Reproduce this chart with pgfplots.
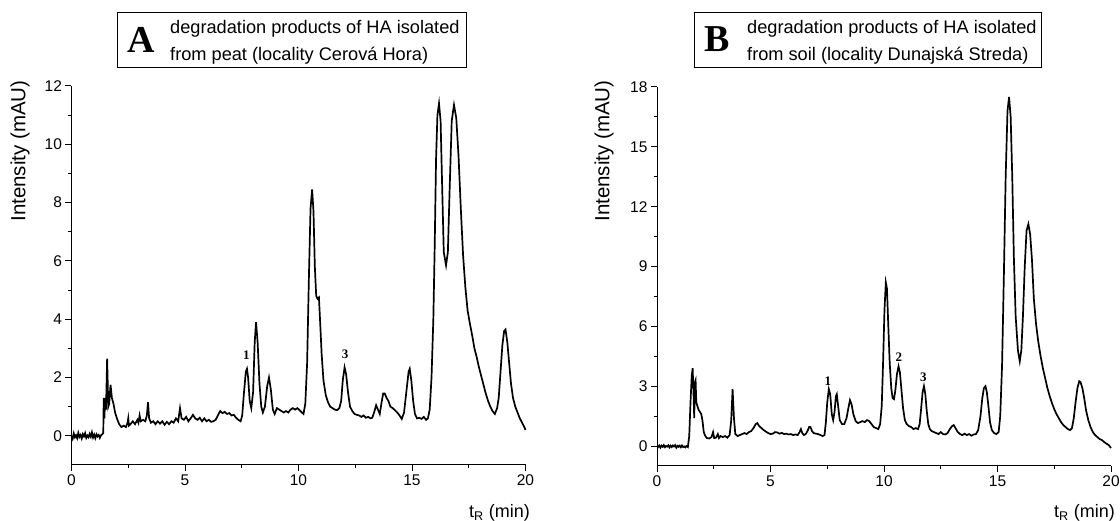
\documentclass[border=0pt]{standalone}
\usepackage{fontspec}
\setmainfont{Liberation Sans}
\newfontfamily\serifb{Liberation Serif}
\usepackage{pgfplots}
\pgfplotsset{compat=1.18}
\pgfplotstableread{
x y
0 0.0
0.05 -0.1
0.1 0.08
0.15 -0.05
0.2 0.02
0.25 -0.08
0.3 0.1
0.35 -0.04
0.4 0.03
0.45 -0.09
0.5 0.06
0.55 -0.02
0.6 0.09
0.65 -0.07
0.7 0.01
0.75 -0.05
0.8 0.07
0.85 -0.03
0.9 0.12
0.95 -0.06
1.0 0.04
1.05 -0.08
1.1 0.05
1.15 -0.02
1.2 0.03
1.25 -0.07
1.3 0.02
1.35 0.05
1.4 0.1
1.42 1.3
1.45 0.6
1.48 1.3
1.52 0.9
1.57 2.65
1.62 1.0
1.66 1.1
1.72 1.75
1.78 1.3
1.85 1.1
1.92 0.8
2.0 0.6
2.1 0.4
2.2 0.3
2.3 0.35
2.4 0.3
2.47 0.45
2.5 0.6
2.53 0.35
2.6 0.4
2.7 0.5
2.8 0.4
2.9 0.55
2.95 0.45
3.0 0.7
3.05 0.5
3.15 0.55
3.25 0.5
3.32 0.7
3.37 1.15
3.42 0.6
3.5 0.45
3.6 0.5
3.7 0.4
3.8 0.5
3.9 0.42
4.0 0.5
4.1 0.38
4.2 0.48
4.3 0.4
4.4 0.5
4.5 0.45
4.6 0.6
4.7 0.5
4.78 0.95
4.85 0.6
4.95 0.55
5.05 0.65
5.15 0.5
5.25 0.6
5.35 0.72
5.45 0.6
5.55 0.55
5.65 0.62
5.75 0.5
5.85 0.6
5.95 0.5
6.05 0.55
6.15 0.48
6.25 0.5
6.35 0.55
6.45 0.7
6.55 0.85
6.65 0.78
6.75 0.82
6.85 0.75
6.95 0.78
7.05 0.7
7.15 0.72
7.25 0.62
7.35 0.55
7.45 0.5
7.52 0.7
7.6 1.5
7.68 2.2
7.73 2.3
7.78 2.0
7.85 1.2
7.92 0.95
8.0 1.5
8.07 3.2
8.13 3.9
8.2 3.2
8.28 1.8
8.36 1.0
8.43 0.8
8.52 1.0
8.62 1.7
8.7 2.0
8.78 1.6
8.87 0.9
8.95 0.75
9.05 0.95
9.15 0.9
9.25 0.85
9.35 0.8
9.45 0.85
9.55 0.8
9.65 0.9
9.75 0.95
9.85 0.9
9.95 0.95
10.05 0.88
10.15 0.8
10.22 0.75
10.3 1.1
10.38 2.5
10.46 5.5
10.53 7.8
10.6 8.45
10.66 7.7
10.72 5.8
10.78 4.8
10.84 4.7
10.9 4.75
10.96 3.8
11.02 2.8
11.1 1.9
11.2 1.4
11.3 1.15
11.4 1.0
11.5 0.95
11.6 0.9
11.7 0.88
11.8 0.95
11.88 1.2
11.95 1.9
12.03 2.35
12.1 2.1
12.18 1.5
12.27 1.0
12.37 0.85
12.47 0.75
12.57 0.72
12.67 0.7
12.77 0.65
12.87 0.7
12.97 0.62
13.07 0.65
13.17 0.6
13.25 0.62
13.33 0.8
13.42 1.05
13.5 0.9
13.58 0.75
13.65 1.1
13.73 1.45
13.8 1.45
13.88 1.3
13.96 1.2
14.05 1.0
14.15 0.95
14.25 0.88
14.35 0.8
14.45 0.7
14.55 0.58
14.65 0.8
14.75 1.5
14.85 2.2
14.9 2.3
14.97 1.9
15.05 1.2
15.13 0.75
15.22 0.6
15.32 0.62
15.42 0.58
15.52 0.65
15.62 0.55
15.7 0.6
15.78 0.9
15.86 2.0
15.94 4.0
16.0 6.5
16.06 9.5
16.12 11.0
16.19 11.4
16.26 10.8
16.33 8.5
16.4 6.3
16.5 5.85
16.58 6.3
16.66 8.5
16.75 10.8
16.85 11.35
16.95 10.9
17.05 9.6
17.15 7.8
17.25 6.2
17.35 5.1
17.45 4.3
17.55 3.85
17.65 3.45
17.75 3.0
17.85 2.7
17.95 2.35
18.05 2.05
18.15 1.75
18.25 1.45
18.35 1.2
18.45 1.0
18.55 0.85
18.65 0.75
18.75 0.95
18.82 1.3
18.9 2.2
18.98 3.1
19.06 3.6
19.12 3.65
19.2 3.2
19.28 2.5
19.36 1.8
19.45 1.3
19.55 1.0
19.65 0.8
19.75 0.6
19.85 0.45
19.95 0.3
20 0.2
}\dataA
\pgfplotstableread{
x y
0 0.0
0.05 -0.05
0.1 0.03
0.15 -0.08
0.2 0.02
0.25 -0.04
0.3 0.05
0.35 -0.06
0.4 0.0
0.45 -0.03
0.5 0.04
0.55 -0.07
0.6 0.02
0.65 -0.05
0.7 0.03
0.75 -0.02
0.8 0.05
0.85 -0.08
0.9 0.01
0.95 -0.04
1.0 0.02
1.05 -0.06
1.1 0.03
1.15 -0.05
1.2 -0.02
1.25 -0.07
1.3 0.0
1.36 -0.05
1.42 0.5
1.48 2.3
1.53 3.5
1.57 3.9
1.61 2.6
1.64 1.4
1.67 3.2
1.7 3.3
1.73 2.2
1.78 2.0
1.84 1.8
1.9 1.7
1.95 1.6
2.0 1.3
2.06 0.7
2.13 0.5
2.2 0.4
2.3 0.38
2.4 0.45
2.47 0.7
2.52 0.4
2.6 0.42
2.68 0.6
2.73 0.4
2.8 0.5
2.9 0.45
3.0 0.5
3.1 0.42
3.2 0.55
3.27 1.3
3.33 2.85
3.39 1.4
3.45 0.6
3.55 0.5
3.65 0.55
3.75 0.6
3.85 0.65
3.95 0.6
4.05 0.7
4.15 0.75
4.25 0.9
4.35 1.1
4.42 1.15
4.5 1.0
4.6 0.9
4.7 0.8
4.8 0.72
4.9 0.65
5.0 0.6
5.1 0.62
5.2 0.7
5.3 0.68
5.4 0.62
5.5 0.66
5.6 0.6
5.7 0.62
5.8 0.58
5.9 0.6
6.0 0.55
6.1 0.58
6.2 0.55
6.28 0.7
6.34 0.85
6.4 0.65
6.47 0.55
6.55 0.6
6.63 0.75
6.7 0.95
6.76 0.95
6.83 0.75
6.9 0.65
7.0 0.62
7.1 0.6
7.2 0.55
7.3 0.5
7.38 0.55
7.44 1.2
7.5 2.2
7.57 2.85
7.63 2.6
7.7 1.6
7.76 1.3
7.82 1.7
7.88 2.5
7.92 2.6
7.98 2.0
8.05 1.3
8.15 1.1
8.25 1.1
8.35 1.4
8.43 1.9
8.5 2.3
8.57 2.1
8.65 1.6
8.75 1.25
8.85 1.15
8.95 1.2
9.05 1.25
9.15 1.2
9.25 1.3
9.35 1.25
9.45 1.1
9.55 0.95
9.65 0.9
9.75 0.85
9.83 1.1
9.9 2.0
9.96 4.2
10.02 6.8
10.08 8.2
10.13 7.9
10.19 6.0
10.25 4.2
10.32 2.9
10.38 2.4
10.44 2.35
10.5 2.8
10.57 3.6
10.64 4.0
10.7 3.7
10.77 2.8
10.84 1.9
10.92 1.3
11.0 1.1
11.1 1.0
11.2 0.95
11.3 0.85
11.4 0.9
11.5 0.85
11.57 1.1
11.63 1.8
11.7 2.7
11.76 3.0
11.82 2.6
11.88 1.8
11.95 1.1
12.02 0.85
12.1 0.75
12.2 0.7
12.3 0.65
12.4 0.6
12.5 0.7
12.6 0.6
12.7 0.58
12.8 0.65
12.9 0.85
13.0 1.0
13.07 1.05
13.15 0.9
13.25 0.7
13.35 0.6
13.45 0.55
13.55 0.62
13.65 0.55
13.75 0.6
13.85 0.52
13.95 0.58
14.05 0.6
14.15 0.8
14.25 1.5
14.33 2.4
14.4 2.9
14.47 3.0
14.53 2.7
14.6 2.0
14.67 1.2
14.75 0.8
14.85 0.65
14.95 0.6
15.05 0.7
15.12 1.5
15.2 4.0
15.28 8.5
15.36 13.5
15.44 16.8
15.51 17.5
15.58 16.5
15.65 13.5
15.72 9.5
15.8 6.5
15.9 4.8
15.98 4.25
16.05 4.8
16.12 6.5
16.2 9.0
16.28 10.8
16.36 11.13
16.44 10.6
16.52 9.3
16.6 7.4
16.7 6.1
16.8 5.2
16.9 4.5
17.0 3.9
17.1 3.4
17.2 2.9
17.3 2.5
17.4 2.15
17.5 1.85
17.6 1.6
17.7 1.4
17.8 1.2
17.9 1.05
18.0 0.95
18.1 0.85
18.2 0.8
18.28 0.9
18.36 1.4
18.44 2.2
18.52 2.9
18.6 3.25
18.66 3.2
18.74 2.9
18.82 2.4
18.9 1.8
19.0 1.3
19.1 0.95
19.2 0.7
19.3 0.55
19.4 0.45
19.5 0.35
19.6 0.3
19.7 0.2
19.8 0.12
19.9 0.05
20.0 -0.1
}\dataB
\pgfplotsset{chrom/.style={
  scale only axis, width=454pt, height=379pt,
  axis lines=left, axis line style={-, line width=1pt, black},
  enlargelimits=false,
  xmin=0, xmax=20, ymin=-1,
  xtick={0,5,...,20}, minor x tick num=1, minor y tick num=1,
  tick align=outside, major tick length=6pt, minor tick length=3.5pt,
  major tick style={line width=1pt, black},
  minor tick style={line width=1pt, black},
  xticklabel={\fontsize{15.5}{18}\selectfont\pgfmathprintnumber{\tick}},
  yticklabel={\fontsize{15.5}{18}\selectfont\pgfmathprintnumber{\tick}},
  /pgf/number format/assume math mode=true,
  clip=false,
}}
\begin{document}
\begin{tikzpicture}
\path[use as bounding box] (0pt,0pt) rectangle (1120pt,521pt);
\begin{axis}[chrom, at={(71.5pt,56pt)}, anchor=south west, ymax=12, ytick={0,2,...,12}]
\addplot[black, line width=1.7pt] table[x=x,y=y] {\dataA};
\node[font=\serifb\bfseries\fontsize{13}{13}\selectfont] at (axis cs:7.7,2.78) {1};
\node[font=\serifb\bfseries\fontsize{13}{13}\selectfont] at (axis cs:12.05,2.8) {3};
\end{axis}
\begin{axis}[chrom, at={(657pt,55pt)}, anchor=south west, ymax=18, ytick={0,3,...,18}]
\addplot[black, line width=1.7pt] table[x=x,y=y] {\dataB};
\node[font=\serifb\bfseries\fontsize{13}{13}\selectfont] at (axis cs:7.53,3.25) {1};
\node[font=\serifb\bfseries\fontsize{13}{13}\selectfont] at (axis cs:10.66,4.45) {2};
\node[font=\serifb\bfseries\fontsize{13}{13}\selectfont] at (axis cs:11.73,3.47) {3};
\end{axis}
% title boxes
\draw[line width=1pt] (117pt,453pt) rectangle (466pt,508pt);
\node[font=\serifb\bfseries\fontsize{38}{38}\selectfont] at (141.5pt,481.5pt) {A};
\node[anchor=base west, font=\fontsize{18.2}{20}\selectfont, inner sep=0pt] at (170pt,487pt) {degradation products of HA isolated};
\node[anchor=base west, font=\fontsize{18.2}{20}\selectfont, inner sep=0pt] at (170pt,460pt) {from peat (locality Cerová Hora)};
\draw[line width=1pt] (694pt,453pt) rectangle (1041pt,508pt);
\node[font=\serifb\bfseries\fontsize{38}{38}\selectfont] at (717pt,481.5pt) {B};
\node[anchor=base west, font=\fontsize{18.2}{20}\selectfont, inner sep=0pt] at (747pt,487pt) {degradation products of HA isolated};
\node[anchor=base west, font=\fontsize{18.2}{20}\selectfont, inner sep=0pt] at (747pt,460pt) {from soil (locality Dunajská Streda)};
% axis labels
\node[rotate=90, font=\fontsize{20.5}{22}\selectfont] at (20pt,370pt) {Intensity (mAU)};
\node[rotate=90, font=\fontsize{20.5}{22}\selectfont] at (604pt,370pt) {Intensity (mAU)};
\node[anchor=base east, font=\fontsize{18}{20}\selectfont, inner sep=0pt] at (530pt,3pt) {t\textsubscript{R} (min)};
\node[anchor=base east, font=\fontsize{18}{20}\selectfont, inner sep=0pt] at (1115pt,3pt) {t\textsubscript{R} (min)};
\end{tikzpicture}
\end{document}
